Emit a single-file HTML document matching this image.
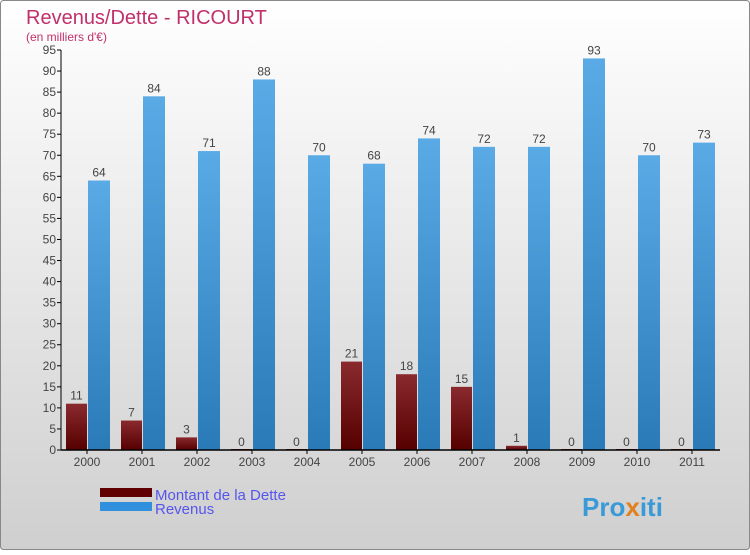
<!DOCTYPE html>
<html><head><meta charset="utf-8"><style>
body{margin:0}
#c{width:750px;height:550px;position:relative;font-family:"Liberation Sans",sans-serif}
</style></head><body>
<div id="c">
<svg id="svg" width="750" height="550" xmlns="http://www.w3.org/2000/svg">
<defs>
<linearGradient id="bg" x1="0" y1="0" x2="0" y2="1"><stop offset="0" stop-color="#ffffff"/><stop offset="1" stop-color="#cfcfcf"/></linearGradient>
<linearGradient id="gd" x1="0" y1="0" x2="0" y2="1"><stop offset="0" stop-color="#8a2a2e"/><stop offset="1" stop-color="#560000"/></linearGradient>
<linearGradient id="gr" x1="0" y1="0" x2="0" y2="1"><stop offset="0" stop-color="#5aaae6"/><stop offset="1" stop-color="#2a7ab8"/></linearGradient>
</defs>
<rect x="0.5" y="0.5" width="749" height="549" rx="3" fill="url(#bg)" stroke="#888"/>
<text x="26" y="24" font-size="20" fill="#c0306a">Revenus/Dette - RICOURT</text>
<text x="26" y="41" font-size="12" fill="#c0306a">(en milliers d'€)</text>
<g id="plot"></g>
<rect x="100" y="488" width="52" height="9" fill="#600000"/>
<text x="155" y="500" font-size="15" fill="#5555ee">Montant de la Dette</text>
<rect x="100" y="502" width="52" height="9" fill="#3090dd"/>
<text x="155" y="514" font-size="15" fill="#5555ee">Revenus</text>
<text x="582" y="516" font-size="26" font-weight="bold" fill="#3a9ad8">Pro<tspan fill="#e08020">x</tspan>iti</text>
</svg>
</div>
<script>
const years=["2000","2001","2002","2003","2004","2005","2006","2007","2008","2009","2010","2011"];
const dette=[11,7,3,0,0,21,18,15,1,0,0,0];
const revenus=[64,84,71,88,70,68,74,72,72,93,70,73];
const yTicks=[0,5,10,15,20,25,30,35,40,45,50,55,60,65,70,75,80,85,90,95];
const NS="http://www.w3.org/2000/svg";
const g=document.getElementById('plot');
const x0=59.5,step=55,yBase=450,yTop=50,yMax=95;
const y=v=>yBase-(v/yMax)*(yBase-yTop);
const xc=i=>x0+step*(i+0.5);
function mk(t,a){const e=document.createElementNS(NS,t);for(const k in a)e.setAttribute(k,a[k]);g.appendChild(e);return e;}
let e;
e=mk('line',{x1:61,y1:yTop,x2:61,y2:yBase,stroke:'#000','stroke-width':1});


yTicks.forEach(t=>{
 e=mk('line',{x1:57,x2:61,y1:y(t),y2:y(t),stroke:'#000'});
 
 
 e=mk('text',{x:56,y:y(t)+4,'font-size':12,'text-anchor':'end',fill:'#444'});e.textContent=t;
 
 
});
years.forEach((yr,i)=>{
 const c=xc(i);
 const hd=y(0)-y(dette[i]);
 e=mk('rect',{x:c-21,y:y(dette[i])-(dette[i]===0?1:0),width:21,height:Math.max(hd,1),fill:'url(#gd)'});
 
 
 e=mk('text',{x:c-10.5,y:y(dette[i])-4,'font-size':12,'text-anchor':'middle',fill:'#444'});e.textContent=dette[i];
 
 
 e=mk('rect',{x:c+1,y:y(revenus[i]),width:22,height:y(0)-y(revenus[i]),fill:'url(#gr)'});
 
 
 e=mk('text',{x:c+12,y:y(revenus[i])-4,'font-size':12,'text-anchor':'middle',fill:'#444'});e.textContent=revenus[i];
 
 
 e=mk('line',{x1:c,x2:c,y1:yBase,y2:yBase+4,stroke:'#000'});
 
 
 e=mk('text',{x:c,y:466,'font-size':12,'text-anchor':'middle',fill:'#444'});e.textContent=yr;
 
 
});
e=mk('line',{x1:61,y1:yBase,x2:720,y2:yBase,stroke:'#000','stroke-width':1.5});


</script>
</body></html>
